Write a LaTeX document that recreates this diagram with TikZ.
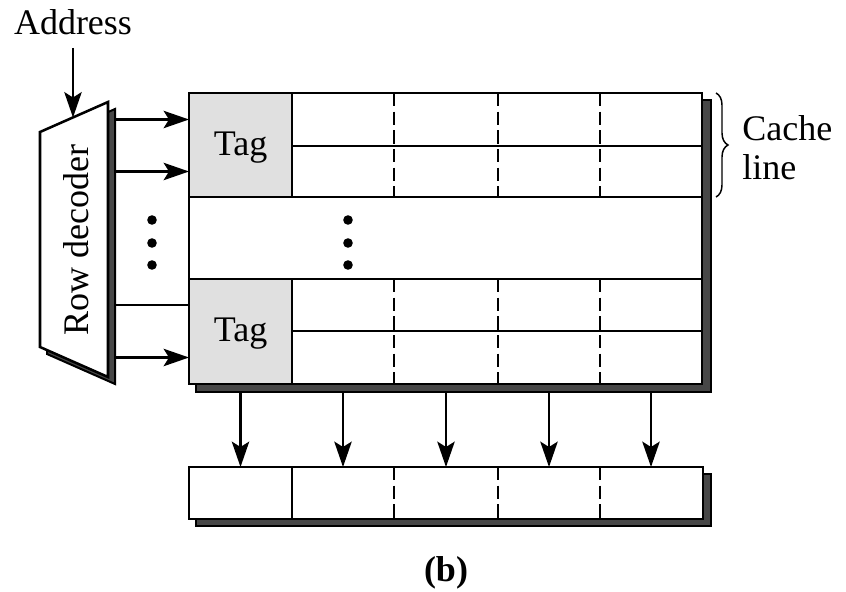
\documentclass[tikz,border=0pt]{standalone}
\usepackage{fontspec}
\setmainfont{Liberation Serif}
\usetikzlibrary{arrows.meta,decorations.pathreplacing}
\begin{document}
\begin{tikzpicture}[x=0.75pt,y=-0.75pt,
  lw/.style={line width=1.9pt},
  shadowbox/.style={fill=black!72,draw=black,line width=1.5pt},
  mainbox/.style={fill=white,draw=black,line width=1.9pt},
  tagcell/.style={fill=black!12,draw=black,line width=1.9pt},
  dashline/.style={line width=1.9pt,dash pattern=on 10pt off 4pt},
  arr/.style={line width=1.9pt,-{Stealth[length=19pt,width=13pt,inset=4pt]}},
  lbl/.style={font=\fontsize{27}{29}\selectfont,inner sep=0pt},
  dot/.style={fill=black}]
\useasboundingbox (0,0) rectangle (846,592);

% ---- row decoder
\path[shadowbox] (47,139) -- (115,109) -- (115,384) -- (47,354) -- cycle;
\path[mainbox] (40,132) -- (108,102) -- (108,377) -- (40,347) -- cycle;
\node[lbl,rotate=90] (dec) at (76,240) {Row decoder};

% ---- address
\node[lbl] (addr) at (73,22) {Address};
\coordinate (addrs) at (73,48);
\coordinate (dectop) at (73,117.5);
\draw[arr] (addrs) -- (dectop);

% ---- cache array
\path[shadowbox] (196,100) rectangle (711,392);
\path[mainbox] (189,93) rectangle (702,384);
\path[tagcell] (189,93) rectangle (292,197);
\path[tagcell] (189,279) rectangle (292,384);
\node[lbl] (tag1) at (240.5,148) {Tag};
\node[lbl] (tag2) at (240.5,334) {Tag};
\draw[lw] (292,146) -- (702,146);
\draw[lw] (189,197) -- (702,197);
\draw[lw] (189,279) -- (702,279);
\draw[lw] (292,331) -- (702,331);
\foreach \x in {394,498,600}{
  \draw[dashline] (\x,93) -- (\x,197);
  \draw[dashline] (\x,279) -- (\x,384);
}
% dots
\foreach \y in {220,243,265}{
  \fill[dot] (152,\y) circle (3.6pt);
  \fill[dot] (348,\y) circle (3.6pt);
}

% ---- decoder outputs
\foreach \n/\y/\tip in {1/119.5/arr,2/171.5/arr,3/305/lw,4/357.5/arr}{
  \coordinate (d\n) at (115,\y);
  \coordinate (g\n) at (189,\y);
  \draw[\tip] (d\n) -- (g\n);
}

% ---- cache line brace
\draw[line width=1.1pt,decorate,decoration={brace,amplitude=9pt}] (716,93) -- (716,197);
\node[lbl,anchor=west,align=left] (cl) at (742,148) {Cache\\line};

% ---- output register
\path[shadowbox] (196,474) rectangle (711,526);
\path[mainbox] (189,467) rectangle (703,519);
\draw[lw] (292,467) -- (292,519);
\foreach \x in {394,498,600}{
  \draw[dashline] (\x,467) -- (\x,519);
}

% ---- column arrows
\foreach \n/\x in {1/240.5,2/343,3/446,4/549,5/651}{
  \coordinate (a\n) at (\x,392);
  \coordinate (r\n) at (\x,467);
  \draw[arr] (a\n) -- (r\n);
}

% ---- caption
\node[lbl] (cap) at (446,573) {\textbf{(b)}};
\end{tikzpicture}
\end{document}
